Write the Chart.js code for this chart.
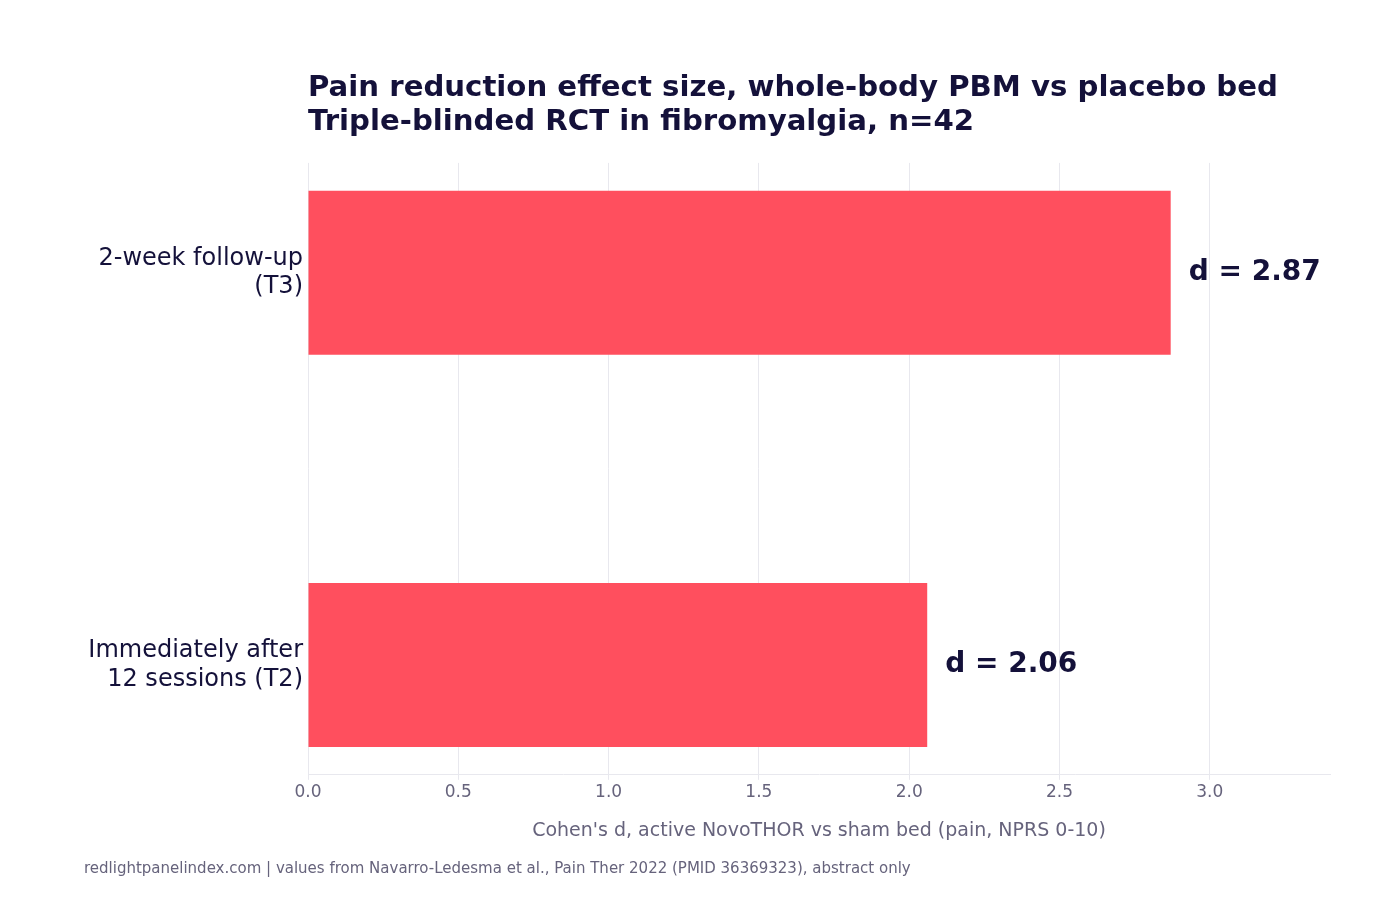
<!DOCTYPE html>
<html>
<head>
<meta charset="utf-8">
<script src="https://cdn.jsdelivr.net/npm/chart.js@4.4.0/dist/chart.umd.min.js"></script>
<style>
html,body{margin:0;padding:0;background:#fff;}
#wrap{width:1400px;height:900px;position:relative;}
</style>
</head>
<body>
<div id="wrap"><canvas id="c" width="1400" height="900"></canvas></div>
<script>
// ---- data ----
const categories = [["Immediately after", "12 sessions (T2)"], ["2-week follow-up", "(T3)"]];
const categoryPositions = [0, 1];
const effectSizes = [2.06, 2.87];
const valueLabels = ["d = 2.06", "d = 2.87"];
const xTicks = [0, 0.5, 1.0, 1.5, 2.0, 2.5, 3.0];
const titleLines = ["Pain reduction effect size, whole-body PBM vs placebo bed", "Triple-blinded RCT in fibromyalgia, n=42"];
const xAxisTitle = "Cohen's d, active NovoTHOR vs sham bed (pain, NPRS 0-10)";
const footerText = "redlightpanelindex.com | values from Navarro-Ledesma et al., Pain Ther 2022 (PMID 36369323), abstract only";

const FONT = "'DejaVu Sans', sans-serif";
const DARK = "#14113a";
const GRAY = "#66637c";
const GRID = "#e8e8ee";
const BAR = "#ff4f5e";

const labelPlugin = {
  id: 'valueLabels',
  afterDatasetsDraw(chart) {
    const ctx = chart.ctx;
    const meta = chart.getDatasetMeta(0);
    ctx.save();
    ctx.font = "bold 28px " + FONT;
    ctx.fillStyle = DARK;
    ctx.textAlign = 'left';
    ctx.textBaseline = 'middle';
    meta.data.forEach((bar, i) => {
      ctx.fillText(valueLabels[i], bar.x + 18, bar.y);
    });
    ctx.restore();
  }
};

new Chart(document.getElementById('c'), {
  type: 'bar',
  data: {
    datasets: [{
      data: effectSizes.map((v, i) => ({ x: v, y: categoryPositions[i] })),
      backgroundColor: BAR,
      borderWidth: 0,
      categoryPercentage: 1,
      barPercentage: 0.418
    }]
  },
  options: {
    indexAxis: 'y',
    responsive: false,
    animation: false,
    devicePixelRatio: 1,
    layout: { padding: { top: 71, right: 70, bottom: 22, left: 84 } },
    plugins: {
      legend: { display: false },
      tooltip: { enabled: false },
      title: {
        display: true,
        text: titleLines,
        align: 'start',
        fullSize: false,
        color: DARK,
        font: { family: FONT, size: 29.2, weight: 'bold', lineHeight: 1.18 },
        padding: { top: 0, bottom: 23 }
      },
      subtitle: {
        display: true,
        text: footerText,
        position: 'bottom',
        align: 'start',
        fullSize: true,
        color: GRAY,
        font: { family: FONT, size: 15, lineHeight: 1.2 },
        padding: { top: 18, bottom: 0 }
      }
    },
    scales: {
      x: {
        type: 'linear',
        min: 0,
        max: 3.4,
        afterBuildTicks: (s) => { s.ticks = xTicks.map(v => ({ value: v })); },
        ticks: {
          color: GRAY,
          font: { family: FONT, size: 17, lineHeight: 1.2 },
          padding: 3,
          callback: (v) => Number(v).toFixed(1)
        },
        grid: { color: GRID, lineWidth: 1, tickLength: 5, drawTicks: true },
        border: { color: GRID, width: 1 },
        title: {
          display: true,
          text: xAxisTitle,
          color: GRAY,
          font: { family: FONT, size: 19, lineHeight: 1.2 },
          padding: { top: 13, bottom: 0 }
        }
      },
      y: {
        type: 'linear',
        offset: false,
        min: -0.28,
        max: 1.28,
        afterDataLimits: (s) => { s.min = -0.28; s.max = 1.28; },
        afterBuildTicks: (s) => { s.ticks = categoryPositions.map(v => ({ value: v })); s.min = -0.28; s.max = 1.28; },
        afterFit: (s) => { s.width = 224; },
        ticks: {
          color: DARK,
          font: { family: FONT, size: 24, lineHeight: 1.2 },
          padding: 5,
          callback: (v) => { const i = categoryPositions.indexOf(v); return i >= 0 ? categories[i] : ''; }
        },
        grid: { display: false, drawTicks: false, offset: false },
        border: { display: false }
      }
    }
  },
  plugins: [labelPlugin]
});
</script>
</body>
</html>
